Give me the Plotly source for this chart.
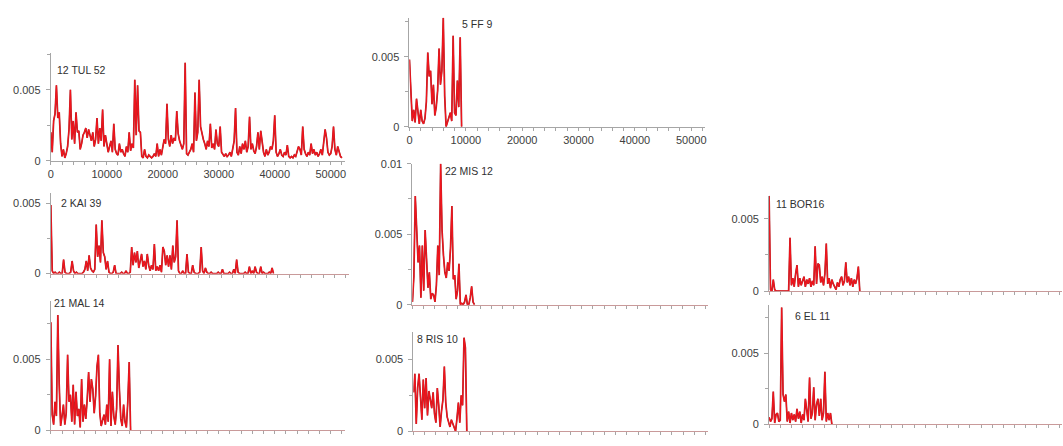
import plotly.graph_objects as go

# Canvas size in pixels
W, H = 1063, 446

# Profiles are sampled every STEP positions; values are stored in units of 1e-4
STEP = 250
UNIT = 1e-4

tul_52 = [
    20, 6, 28, 33,   53, 30, 34, 12,   3, 8, 2, 5,   10, 22, 50, 15,
    28, 12, 34, 20,  21, 8, 12, 18,   20, 23, 16, 22,  18, 14, 20, 10,
    15, 30, 12, 23,  14, 36, 10, 18,  12, 6, 10, 14,  6, 26, 8, 5,
    4, 12, 6, 8,     5, 3, 10, 6,     20, 7, 12, 9,   57, 18, 53, 21,
    20, 3, 2, 8,     3, 2, 4, 3,      2, 3, 5, 3,     12, 3, 8, 4,
    9, 15, 12, 40,   15, 10, 18, 12,  16, 14, 35, 19, 14, 10, 8, 12,
    69, 5, 4, 6,     8, 12, 6, 48,    14, 20, 57, 24, 18, 15, 12, 8,
    14, 10, 26, 9,   12, 8, 22, 12,   10, 24, 6, 4,   3, 5, 3, 4,
    6, 3, 8, 14,     37, 6, 4, 10,    5, 12, 8, 14,   6, 10, 31, 8,
    12, 7, 5, 10,    20, 8, 21, 12,   6, 3, 8, 4,     6, 10, 8, 14,
    32, 6, 3, 5,     8, 4, 3, 6,      4, 11, 3, 2,    3, 2, 4, 3,
    6, 10, 8, 4,     24, 8, 5, 3,     6, 4, 12, 5,    8, 4, 6, 3,
    5, 8, 4, 12,     22, 16, 6, 4,    5, 10, 24, 8,   4, 10, 6, 3,
    2,
]

ff_9 = [
    48, 30, 4, 12,   3, 20, 8, 2,    12, 4, 2, 6,    18, 53, 36, 40,
    16, 30, 8, 14,   26, 56, 30, 40, 78, 22, 0, 3,   6, 10, 4, 65,
    10, 8, 33, 14,   64, 0,
]

kai_39 = [
    49, 2, 0, 1,   0, 0, 1, 0,    0, 10, 1, 0,   0, 0, 1, 9,
    2, 0, 1, 0,    0, 0, 0, 1,    3, 9, 2, 13,   4, 2, 1, 3,
    35, 12, 20, 8, 38, 15, 12, 3, 9, 1, 0, 0,    1, 6, 0, 0,
    0, 0, 1, 0,    0, 2, 0, 0,    1, 19, 6, 15,  8, 16, 4, 10,
    14, 5, 9, 3,   14, 6, 2, 6,   3, 21, 2, 5,   2, 6, 1, 19,
    16, 6, 13, 5,  13, 3, 20, 8,  12, 38, 2, 0,  0, 2, 0, 0,
    14, 1, 0, 0,   6, 1, 0, 0,    0, 1, 19, 2,   0, 4, 1, 0,
    0, 1, 0, 0,    0, 0, 1, 0,    0, 3, 0, 0,    0, 0, 1, 0,
    0, 3, 0, 10,   1, 0, 0, 0,    0, 1, 0, 0,    5, 0, 2, 0,
    5, 1, 0, 0,    5, 0, 1, 0,    0, 0, 1, 0,    4, 0,
]

mal_14 = [
    76, 11, 4, 20,   10, 81, 32, 3,   10, 18, 4, 12,  53, 20, 25, 6,
    32, 4, 27, 10,   15, 2, 36, 6,    18, 8, 22, 41,  20, 36, 29, 12,
    24, 45, 53, 12,  3, 8, 11, 4,     18, 6, 50, 3,   27, 10, 4, 15,
    60, 29, 8, 3,    18, 6, 2, 20,    48, 0,
]

mis_12 = [
    2, 20, 77, 46,   30, 42, 5, 42,   10, 53, 32, 12,  23, 4, 8, 7,
    2, 14, 42, 21,   100, 53, 35, 23, 19, 30, 24, 40,  70, 18, 21, 4,
    10, 29, 0, 1,    0, 2, 7, 0,      0, 5, 13, 2,     0,
]

ris_10 = [
    27, 40, 5, 30,   40, 23, 8, 36,   16, 37, 11, 28,  20, 16, 27, 12,
    6, 30, 18, 3,    14, 22, 45, 20,  10, 7, 3, 8,     5, 2, 0, 9,
    20, 6, 25, 18,   65, 58, 0,
]

bor_16 = [
    66, 1, 0, 8,    1, 0, 0, 0,     0, 0, 0, 0,     0, 0, 0, 37,
    4, 9, 3, 12,    18, 3, 9, 4,    7, 10, 3, 8,    5, 9, 3, 7,
    4, 31, 5, 19,   18, 6, 10, 4,   12, 33, 5, 9,   2, 8, 5, 3,
    1, 6, 3, 8,     10, 4, 7, 20,   6, 10, 4, 9,    3, 8, 5, 9,
    17, 0,
]

el_11 = [
    5, 2, 4, 23,    1, 7, 8, 2,     3, 82, 21, 16,  21, 2, 9, 1,
    8, 3, 7, 2,     11, 4, 9, 1,    7, 3, 18, 11,   2, 33, 4, 8,
    26, 3, 14, 18,  6, 18, 3, 8,    37, 2, 8, 3,    8, 0,
]

labels = ["12 TUL 52", "5 FF 9", "2 KAI 39", "21 MAL 14",
          "22 MIS 12", "8 RIS 10", "11 BOR16", "6 EL 11"]
series = [tul_52, ff_9, kai_39, mal_14, mis_12, ris_10, bor_16, el_11]

# Plot boxes in pixels: (left, top, right, bottom), y-axis top, x tick labels,
# label anchor (left x, middle y), axis line colour
layout_spec = [
    ((48, 48, 343, 159), 0.0076, True, (52, 66), "#a6a6a6"),
    ((408, 12, 705, 124), 0.0078, True, (459, 18), "#a6a6a6"),
    ((48, 192, 347, 275), 0.00576, False, (56, 202), "#c99a9a"),
    ((48, 303, 343, 436), 0.0091, False, (49, 305), "#c99a9a"),
    ((411, 162, 708, 307), 0.0100, False, (442, 170), "#c99a9a"),
    ((412, 335, 708, 437), 0.0069, False, (414, 342), "#c99a9a"),
    ((769, 195, 1063, 293), 0.0066, False, (774, 203), "#c99a9a"),
    ((769, 307, 1063, 430), 0.0084, False, (793, 319), "#c99a9a"),
]

X_MAX = 52500
TICK_FONT = dict(family="Liberation Sans, Arial, sans-serif", size=11, color="#404040")
GREY = "#a6a6a6"

fig = go.Figure()
annotations = []

for i, (vals, name, spec) in enumerate(zip(series, labels, layout_spec), start=1):
    (left, top, right, bottom), ytop, xlabels, (lx, ly), axcol = spec
    xs = [k * STEP for k in range(len(vals))]
    ys = [v * UNIT for v in vals]
    ax = "" if i == 1 else str(i)

    # dark outline under a bright red line gives the two-tone spikes
    fig.add_trace(go.Scatter(x=xs, y=ys, mode="lines",
                             line=dict(color="#a8262b", width=1.7),
                             xaxis="x" + ax, yaxis="y" + ax,
                             hoverinfo="skip", showlegend=False))
    fig.add_trace(go.Scatter(x=xs, y=ys, mode="lines",
                             line=dict(color="#f2141c", width=1.1),
                             xaxis="x" + ax, yaxis="y" + ax,
                             name=name, showlegend=False))

    fig.layout["xaxis" + ax] = dict(
        domain=[left / W, min(right / W, 1.0)],
        anchor="y" + ax,
        range=[0, X_MAX],
        showgrid=False, zeroline=False,
        showline=True, linecolor=axcol, linewidth=1,
        ticks="outside", ticklen=3, tickcolor=GREY, tickwidth=1,
        tick0=0, dtick=10000, tickformat="d",
        showticklabels=xlabels, tickfont=TICK_FONT,
        minor=dict(dtick=2000, ticks="outside", ticklen=3,
                   tickcolor=GREY, showgrid=False),
    )
    fig.layout["yaxis" + ax] = dict(
        domain=[1 - bottom / H, 1 - top / H],
        anchor="x" + ax,
        range=[0, ytop],
        showgrid=False, zeroline=False,
        showline=True, linecolor=GREY, linewidth=1,
        ticks="outside", ticklen=4, tickcolor=GREY, tickwidth=1,
        tick0=0, dtick=0.005,
        showticklabels=True, tickfont=TICK_FONT,
        ticklabelstandoff=3,
        minor=dict(dtick=0.0025, ticks="outside", ticklen=3,
                   tickcolor=GREY, showgrid=False),
    )

    annotations.append(dict(
        text=name, x=lx / W, y=1 - ly / H, xref="paper", yref="paper",
        xanchor="left", yanchor="middle", showarrow=False,
        font=dict(family="Liberation Sans, Arial, sans-serif", size=10.5,
                  color="#303030"),
    ))

fig.update_layout(
    width=W, height=H,
    margin=dict(l=0, r=0, t=0, b=0),
    paper_bgcolor="white", plot_bgcolor="white",
    annotations=annotations,
    showlegend=False,
)

fig.write_html("out.html")
